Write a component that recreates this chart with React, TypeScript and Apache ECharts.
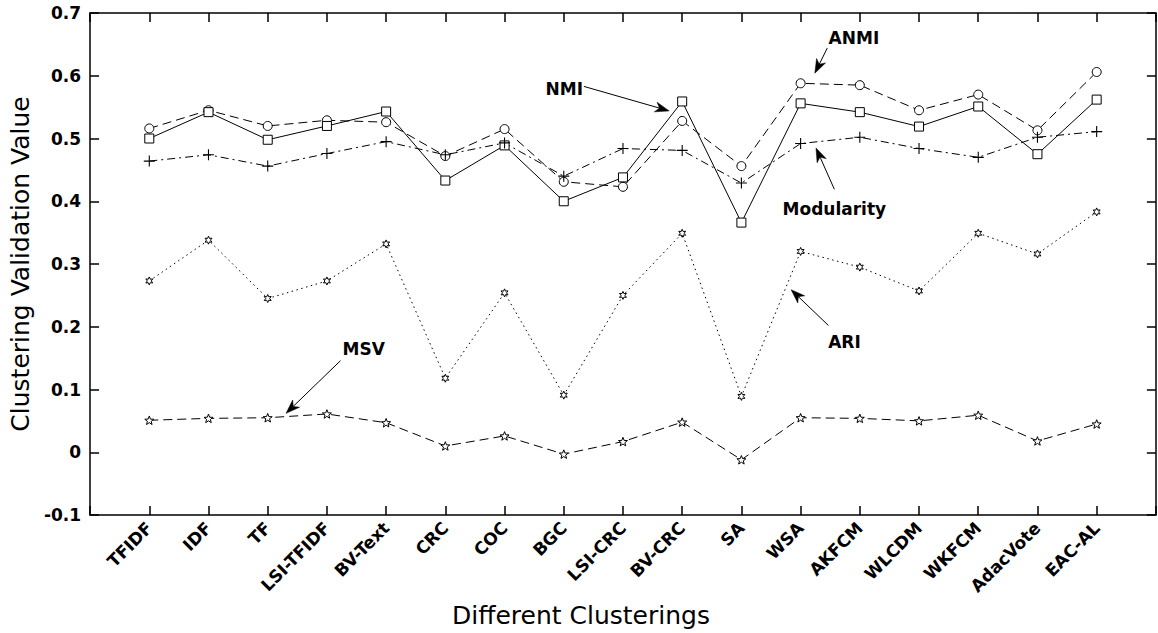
import React, { useEffect, useRef } from "react";
import * as echarts from "echarts";

const categories = [
  "TFIDF", "IDF", "TF", "LSI-TFIDF", "BV-Text", "CRC", "COC", "BGC", "LSI-CRC",
  "BV-CRC", "SA", "WSA", "AKFCM", "WLCDM", "WKFCM", "AdacVote", "EAC-AL",
];
const anmiValues = [0.516, 0.545, 0.520, 0.529, 0.526, 0.472, 0.515, 0.431, 0.423, 0.528, 0.456, 0.588, 0.585, 0.545, 0.570, 0.513, 0.606];
const nmiValues = [0.500, 0.542, 0.498, 0.520, 0.543, 0.433, 0.489, 0.400, 0.438, 0.559, 0.366, 0.556, 0.542, 0.519, 0.551, 0.475, 0.562];
const modularityValues = [0.464, 0.474, 0.456, 0.476, 0.495, 0.474, 0.493, 0.440, 0.484, 0.481, 0.429, 0.492, 0.502, 0.484, 0.470, 0.502, 0.511];
const ariValues = [0.273, 0.338, 0.245, 0.273, 0.332, 0.118, 0.254, 0.091, 0.250, 0.349, 0.089, 0.320, 0.295, 0.257, 0.349, 0.316, 0.383];
const msvValues = [0.051, 0.054, 0.055, 0.061, 0.047, 0.010, 0.026, -0.003, 0.017, 0.048, -0.012, 0.055, 0.054, 0.050, 0.059, 0.018, 0.045];

const yMin = -0.1;
const yMax = 0.7;
const yInterval = 0.1;

// annotation positions in data coordinates (x = category position 1..17)
const annotationTexts = ["NMI", "ANMI", "Modularity", "ARI", "MSV"];
const annotationTextAt = [[8.01, 0.579], [12.9, 0.66], [12.57, 0.387], [12.74, 0.175], [4.62, 0.164]];
const annotationArrowFrom = [[8.34, 0.583], [12.45, 0.644], [12.57, 0.419], [12.47, 0.202], [4.23, 0.146]];
const annotationArrowTo = [[9.78, 0.544], [12.24, 0.604], [12.26, 0.485], [11.84, 0.259], [3.31, 0.062]];

const FONT = '"DejaVu Sans", "Liberation Sans", Arial, sans-serif';

function starPath(n: number, inner: number) {
  const pts: string[] = [];
  for (let k = 0; k < 2 * n; k++) {
    const r = k % 2 ? inner : 1;
    const a = -Math.PI / 2 + (k * Math.PI) / n;
    pts.push((r * Math.cos(a)).toFixed(4) + "," + (r * Math.sin(a)).toFixed(4));
  }
  return "path://M" + pts.join("L") + "Z";
}
const plusPath = "path://M4.5,0h1v10h-1z M0,4.5h10v1h-10z";

const toPoints = (vals: number[]) => vals.map((v, i) => [i + 1, v]);

export default function App() {
  const ref = useRef<HTMLDivElement>(null);
  useEffect(() => {
    if (!ref.current) return;
    const chart = echarts.init(ref.current, null, { renderer: "svg" });
    const hollow = { color: "#fff", borderColor: "#000", borderWidth: 1 };
    const baseLine = (name: string, data: number[], type: any, symbol: string, size: number, itemStyle: any) => ({
      name,
      type: "line",
      xAxisIndex: 0,
      yAxisIndex: 0,
      data: toPoints(data),
      symbol,
      symbolSize: size,
      symbolKeepAspect: true,
      showAllSymbol: true,
      lineStyle: { color: "#000", width: 1, type },
      itemStyle,
      z: 3,
    });
    const xCommon = {
      type: "value",
      min: 0,
      max: 18,
      interval: 1,
      axisLine: { show: true, onZero: false, lineStyle: { color: "#000", width: 1.5 } },
      axisTick: { show: true, inside: true, length: 9, lineStyle: { color: "#000", width: 1.5 } },
      splitLine: { show: false },
    };
    const yCommon = {
      type: "value",
      min: yMin,
      max: yMax,
      interval: yInterval,
      axisLine: { show: true, onZero: false, lineStyle: { color: "#000", width: 1.5 } },
      axisTick: { show: true, inside: true, length: 9, lineStyle: { color: "#000", width: 1.5 } },
      splitLine: { show: false },
    };
    chart.setOption({
      animation: false,
      backgroundColor: "#fff",
      grid: { left: 87, top: 13, width: 1071, height: 504, containLabel: false },
      xAxis: [
        {
          ...xCommon,
          position: "bottom",
          name: "Different Clusterings",
          nameLocation: "middle",
          nameGap: 88,
          nameTextStyle: { fontFamily: FONT, fontSize: 25, color: "#000", padding: [0, 84, 0, 0] },
          axisLabel: {
            show: true,
            rotate: 45,
            margin: 10,
            fontFamily: FONT,
            fontWeight: "bold",
            fontSize: 17,
            color: "#000",
            formatter: (v: number) => (v >= 1 && v <= categories.length ? categories[v - 1] : ""),
          },
        },
        { ...xCommon, position: "top", axisLabel: { show: false } },
      ],
      yAxis: [
        {
          ...yCommon,
          position: "left",
          name: "Clustering Validation Value",
          nameLocation: "middle",
          nameGap: 50,
          nameTextStyle: { fontFamily: FONT, fontSize: 25, color: "#000" },
          axisLabel: {
            show: true,
            margin: 9,
            fontFamily: FONT,
            fontWeight: "bold",
            fontSize: 17,
            color: "#000",
            formatter: (v: number) => (Math.abs(v) < 1e-9 ? "0" : v.toFixed(1)),
          },
        },
        { ...yCommon, position: "right", axisLabel: { show: false } },
      ],
      series: [
        baseLine("ANMI", anmiValues, [9, 5], "circle", 9, hollow),
        baseLine("NMI", nmiValues, "solid", "rect", 9, hollow),
        baseLine("Modularity", modularityValues, [8, 4, 2, 4], plusPath, 11, { color: "#000", borderWidth: 0 }),
        baseLine("ARI", ariValues, [1.5, 3.5], starPath(6, 0.5), 8, hollow),
        baseLine("MSV", msvValues, [9, 5], starPath(5, 0.42), 9, hollow),
      ],
    });

    const px = (p: number[]) => chart.convertToPixel({ xAxisIndex: 0, yAxisIndex: 0 }, p) as number[];
    const graphics: any[] = [];
    annotationTexts.forEach((t, i) => {
      const c = px(annotationTextAt[i]);
      graphics.push({
        type: "text",
        x: c[0],
        y: c[1],
        style: {
          text: t,
          align: "center",
          verticalAlign: "middle",
          font: `bold 17px ${FONT}`,
          fill: "#000",
        },
        z: 10,
      });
      const a = px(annotationArrowFrom[i]);
      const b = px(annotationArrowTo[i]);
      const dx = b[0] - a[0];
      const dy = b[1] - a[1];
      const len = Math.hypot(dx, dy);
      const ux = dx / len;
      const uy = dy / len;
      const nx = -uy;
      const ny = ux;
      const L = 14;
      const W = 5;
      const notch = 4;
      const base = [b[0] - ux * L, b[1] - uy * L];
      const mid = [b[0] - ux * (L - notch), b[1] - uy * (L - notch)];
      graphics.push({
        type: "line",
        shape: { x1: a[0], y1: a[1], x2: mid[0], y2: mid[1] },
        style: { stroke: "#000", lineWidth: 1 },
        z: 10,
      });
      graphics.push({
        type: "polygon",
        shape: {
          points: [
            [b[0], b[1]],
            [base[0] + nx * W, base[1] + ny * W],
            mid,
            [base[0] - nx * W, base[1] - ny * W],
          ],
        },
        style: { fill: "#000", stroke: "#000", lineWidth: 0.5 },
        z: 10,
      });
    });
    chart.setOption({ graphic: graphics });

    return () => chart.dispose();
  }, []);
  return (
    <div
      ref={ref}
      style={{ position: "absolute", left: 0, top: 0, width: 1158, height: 633 }}
    />
  );
}
